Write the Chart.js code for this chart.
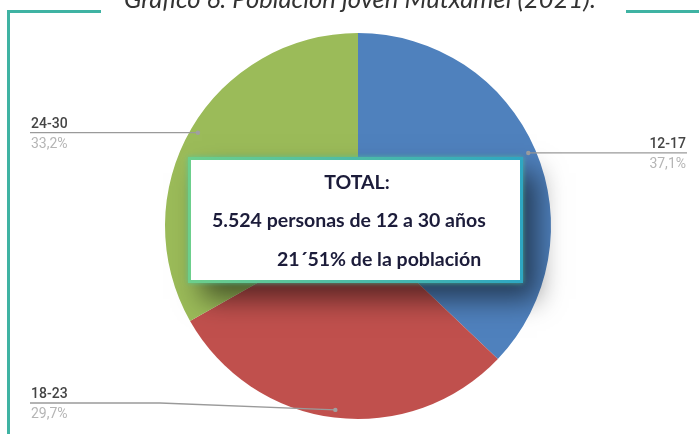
<!DOCTYPE html>
<html>
<head>
<meta charset="utf-8">
<script src="https://cdn.jsdelivr.net/npm/chart.js@4"></script>
<style>
    body { margin: 0; background: #fff; }
    #wrap { position: relative; width: 699px; height: 436px; overflow: hidden; font-family: Lato, sans-serif; }
    #chart { position: absolute; left: 0; top: 0; }
    .frame { position: absolute; background: #3fb3a3; }
    #title { position: absolute; left: 124px; top: -9px; white-space: nowrap; font-style: italic; font-size: 22px; line-height: 1; color: #333; background: #fff; padding: 0 2px; }
    #box {
        position: absolute; left: 188px; top: 157px; width: 329px; height: 120px;
        background: #fff; border: 3px solid #5cc59a;
        border-image: linear-gradient(90deg, #6ccf8c, #2ea7c2) 1;
        box-shadow: 0 0 5px rgba(80, 200, 160, 0.8), 14px 16px 26px rgba(0, 0, 0, 0.55);
    }
    .line { position: absolute; white-space: nowrap; font-weight: bold; font-size: 17px; line-height: 1; color: #1c1c3a; }
</style>
</head>
<body>
<div id="wrap">
    <canvas id="chart" width="699" height="436"></canvas>
    <div class="frame" style="left:7px; top:10px; width:3px; height:424px;"></div>
    <div class="frame" style="left:7px; top:10px; width:94px; height:3px;"></div>
    <div class="frame" style="left:626px; top:10px; width:73px; height:3px;"></div>
    <div id="title">Gráfico 6. Población joven Mutxamel (2021).</div>
    <div id="box"></div>
    <div class="line" id="l1">TOTAL:</div>
    <div class="line" id="l2">5.524 personas de 12 a 30 años</div>
    <div class="line" id="l3">21´51% de la población</div>
</div>
<script>
const categories = ["12-17", "18-23", "24-30"];
const shares = [37.1, 29.7, 33.2];
const colors = ["#4f81bd", "#c0504d", "#9bbb59"];

function pct(v) {
    return v.toFixed(1).replace(".", ",") + "%";
}

// leader lines with name above and share below
const leaderLines = {
    id: "leaderLines",
    afterDatasetsDraw(chart) {
        const ctx = chart.ctx;
        const meta = chart.getDatasetMeta(0);
        meta.data.forEach((arc, i) => {
            const p = arc.getProps(["x", "y", "startAngle", "endAngle", "outerRadius"], true);
            const mid = (p.startAngle + p.endAngle) / 2;
            const px = p.x + Math.cos(mid) * p.outerRadius * 0.96;
            const py = p.y + Math.sin(mid) * p.outerRadius * 0.96;
            const right = px > p.x;
            const ly = Math.min(py, chart.height - 33);
            const endX = right ? chart.width - 12 : 30;

            ctx.save();
            ctx.strokeStyle = "#9a9a9a";
            ctx.lineWidth = 1.3;
            ctx.beginPath();
            ctx.moveTo(px, py);
            if (ly !== py) ctx.lineTo(chart.chartArea.left + 60, ly);
            ctx.lineTo(endX, ly);
            ctx.stroke();
            ctx.fillStyle = "#a0a0a0";
            ctx.beginPath();
            ctx.arc(px, py, 2.2, 0, Math.PI * 2);
            ctx.fill();

            const tx = right ? chart.width - 13 : 31;
            ctx.textAlign = right ? "right" : "left";
            ctx.textBaseline = "alphabetic";
            ctx.font = "500 14px Roboto";
            ctx.fillStyle = "#444";
            ctx.fillText(categories[i], tx, ly - 5);
            ctx.font = "14px Roboto";
            ctx.fillStyle = "#b5b5b5";
            ctx.fillText(pct(shares[i]), tx, ly + 15);
            ctx.restore();
        });
    }
};

new Chart(document.getElementById("chart").getContext("2d"), {
    type: "pie",
    data: {
        labels: categories,
        datasets: [{ data: shares, backgroundColor: colors, borderWidth: 0 }]
    },
    options: {
        responsive: false,
        animation: false,
        devicePixelRatio: 1,
        layout: { padding: { top: 33, bottom: 17, left: 100, right: 83 } },
        plugins: { legend: { display: false }, tooltip: { enabled: false } }
    },
    plugins: [leaderLines]
});

// fit text widths to the picture
function fit(el, width) {
    const fs = parseFloat(getComputedStyle(el).fontSize);
    el.style.fontSize = (fs * width / el.getBoundingClientRect().width) + "px";
}
function place(el, x, baseline, align) {
    const fs = parseFloat(el.style.fontSize || getComputedStyle(el).fontSize);
    const w = el.getBoundingClientRect().width;
    el.style.left = (align === "center" ? x - w / 2 : x) + "px";
    el.style.top = (baseline - 0.887 * fs) + "px";
}

const title = document.getElementById("title");
fit(title, 477);
place(title, 122, 9);
const l1 = document.getElementById("l1");
const l2 = document.getElementById("l2");
const l3 = document.getElementById("l3");
fit(l2, 274);
l1.style.fontSize = l2.style.fontSize;
l3.style.fontSize = l2.style.fontSize;
place(l1, 357, 189, "center");
place(l2, 212, 227);
place(l3, 277, 266);
</script>
</body>
</html>
